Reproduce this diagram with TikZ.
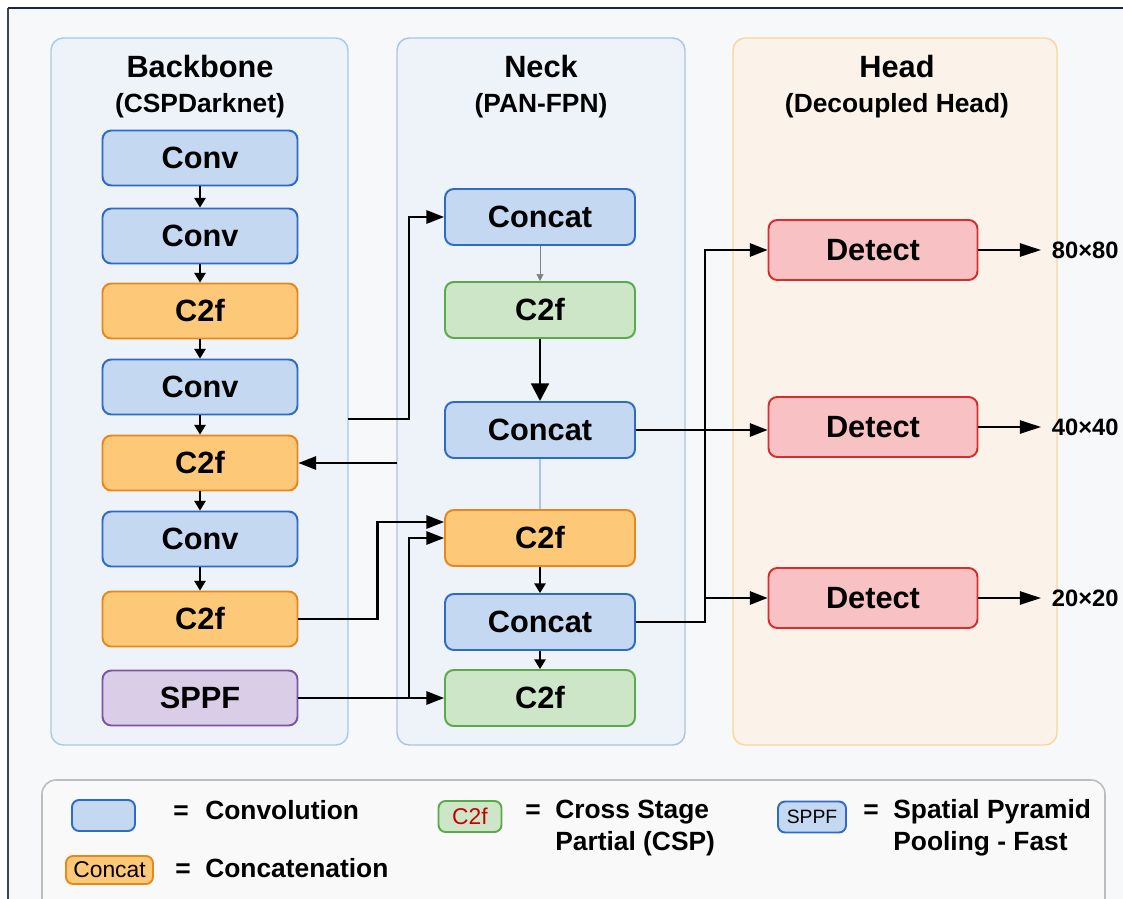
\documentclass[tikz,border=0pt]{standalone}
\usepackage{fontspec}
\setmainfont{Liberation Sans}
\usetikzlibrary{arrows.meta}

\definecolor{pagebg}{HTML}{F7F8F9}
\definecolor{frametop}{HTML}{1B2450}
\definecolor{frameleft}{HTML}{3E4352}
\definecolor{panelblue}{HTML}{EEF3F9}
\definecolor{panelline}{HTML}{A3CCEB}
\definecolor{neckline}{HTML}{A9C4E9}
\definecolor{panelorange}{HTML}{FBF3E9}
\definecolor{headline}{HTML}{FCD49A}
\definecolor{convfill}{HTML}{C4D8F1}
\definecolor{convline}{HTML}{2D6BC9}
\definecolor{cffill}{HTML}{FDC878}
\definecolor{cfline}{HTML}{E8881C}
\definecolor{greenfill}{HTML}{CDE6C8}
\definecolor{greenline}{HTML}{5BAA4A}
\definecolor{sppffill}{HTML}{D9CDE7}
\definecolor{sppfline}{HTML}{7A57A6}
\definecolor{detfill}{HTML}{F8C1C3}
\definecolor{detline}{HTML}{DA2C2C}
\definecolor{legbg}{HTML}{F9F9F9}
\definecolor{legline}{HTML}{BDBDBD}
\definecolor{c2fred}{HTML}{C80000}

\begin{document}
\begin{tikzpicture}[x=0.02cm,y=-0.02cm,
    blk/.style={draw, line width=1.1pt, rounded corners=5pt, minimum width=3.9cm,
        minimum height=1.1cm, font=\bfseries\fontsize{17.5}{20}\selectfont},
    nk/.style={minimum width=3.8cm, minimum height=1.12cm},
    conv/.style={blk, fill=convfill, draw=convline},
    cfo/.style={blk, fill=cffill, draw=cfline},
    grn/.style={blk, fill=greenfill, draw=greenline},
    sppf/.style={blk, fill=sppffill, draw=sppfline},
    det/.style={blk, fill=detfill, draw=detline, minimum width=4.18cm, minimum height=1.2cm},
    ttl/.style={anchor=base, font=\bfseries\fontsize{17.5}{20}\selectfont},
    sub/.style={anchor=base, font=\bfseries\fontsize{15}{18}\selectfont},
    outl/.style={anchor=west, inner xsep=6pt, font=\bfseries\fontsize{13.5}{16}\selectfont},
    lgtxt/.style={anchor=base west, inner sep=0pt, font=\bfseries\fontsize{15}{18}\selectfont},
    lgeq/.style={anchor=base, inner sep=0pt, font=\bfseries\fontsize{15}{18}\selectfont},
    lgbox/.style={minimum width=1.26cm, minimum height=0.62cm, rounded corners=4pt,
        font=\fontsize{13}{15}\selectfont},
    arr/.style={-{Triangle[length=10pt,width=7.5pt]}, line width=1.2pt},
    sarr/.style={-{Triangle[length=5.5pt,width=6.5pt]}, line width=0.9pt},
    barr/.style={-{Triangle[length=10pt,width=10pt]}, line width=1.7pt},
    tarr/.style={-{Triangle[length=4pt,width=4pt]}, line width=0.4pt, draw=gray},
    oarr/.style={-{Triangle[length=12pt,width=7.5pt]}, line width=1.2pt}]

\useasboundingbox (0,0) rectangle (1123,899);
\clip (0,0) rectangle (1123,899);

% page
\fill[white] (0,0) rectangle (1123,899);
\fill[pagebg] (8,8) rectangle (1123,899);
\draw[frameleft, line width=1.4pt] (8,899) -- (8,8);
\draw[frametop, line width=1.6pt] (8,8) -- (1123,8);

% panels
\draw[panelline, fill=panelblue, line width=0.8pt, rounded corners=7pt] (51,38) rectangle (348,745);
\draw[neckline, fill=panelblue, line width=0.8pt, rounded corners=7pt] (397,38) rectangle (685,745);
\draw[headline, fill=panelorange, line width=0.8pt, rounded corners=7pt] (733,38) rectangle (1057,745);

\node[ttl] (tbb) at (200,77) {Backbone};
\node[sub] (sbb) at (200,112) {(CSPDarknet)};
\node[ttl] (tnk) at (541,77) {Neck};
\node[sub] (snk) at (541,112) {(PAN-FPN)};
\node[ttl] (thd) at (897,77) {Head};
\node[sub] (shd) at (897,112) {(Decoupled Head)};

% backbone
\node[conv] (b1) at (200,158) {Conv};
\node[conv] (b2) at (200,236) {Conv};
\node[cfo]  (b3) at (200,311) {C2f};
\node[conv] (b4) at (200,387) {Conv};
\node[cfo]  (b5) at (200,463) {C2f};
\node[conv] (b6) at (200,539) {Conv};
\node[cfo]  (b7) at (200,619) {C2f};
\node[sppf] (b8) at (200,698) {SPPF};

\foreach \a/\b in {b1/b2,b2/b3,b3/b4,b4/b5,b5/b6,b6/b7}
    \draw[sarr] (\a) -- (\b);

% neck
\node[conv, nk] (n1) at (540,217) {Concat};
\node[grn, nk]  (n2) at (540,310) {C2f};
\node[conv, nk] (n3) at (540,430) {Concat};
\node[cfo, nk]  (n4) at (540,538) {C2f};
\node[conv, nk] (n5) at (540,622) {Concat};
\node[grn, nk]  (n6) at (540,698) {C2f};

\draw[tarr] (n1) -- (n2);
\draw[barr] (n2) -- (n3);
\draw[neckline, line width=0.6pt] (n3) -- (n4);
\draw[sarr] (n4) -- (n5);
\draw[sarr] (n5) -- (n6);

% head
\node[det] (d1) at (873,250) {Detect};
\node[det] (d2) at (873,427) {Detect};
\node[det] (d3) at (873,598) {Detect};

\node[outl] (o1) at (1041,250) {80×80};
\node[outl] (o2) at (1041,427) {40×40};
\node[outl] (o3) at (1041,598) {20×20};
\draw[oarr] (d1.east) -- (o1.west);
\draw[oarr] (d2.east) -- (o2.west);
\draw[oarr] (d3.east) -- (o3.west);

% backbone <-> neck
\coordinate (bbout) at (348,419);
\coordinate (nkin) at (397,463);
\coordinate (spbr) at (409,698);
\draw[arr] (bbout) -- ++(61,0) |- (n1.west);
\draw[arr] (nkin) -- (b5.east);
\draw[arr] (b7.east) -- ++(79,0) |- ([yshift=0.32cm]n4.west);
\draw[arr] (b8.east) -- (n6.west);
\draw[arr] (spbr) |- (n4.west);

% neck -> head
\coordinate (hbr) at (704,598);
\draw[arr] (n3.east) -- (n3.east -| d2.west);
\draw[arr] (n5.east) -- ++(69,0) |- (d1.west);
\draw[arr] (hbr) -- (d3.west);

% legend
\draw[legline, fill=legbg, line width=0.9pt, rounded corners=8pt] (42,780) rectangle (1105,940);

\node[conv, lgbox] (lconv) at (103.5,815.5) {};
\node[lgeq] (lq1) at (181,819) {=};
\node[lgtxt] (lt1) at (205,819) {Convolution};

\node[cfo, lgbox, minimum width=1.74cm, minimum height=0.56cm] (lcat) at (109.5,870) {Concat};
\node[lgeq] (lq2) at (183,877) {=};
\node[lgtxt] (lt2) at (205,877) {Concatenation};

\node[grn, lgbox, text=c2fred] (lc2f) at (470,816.5) {C2f};
\node[lgeq] (lq3) at (533,818) {=};
\node[lgtxt] (lt3) at (555,818) {Cross Stage};
\node[lgtxt] (lt4) at (555,850) {Partial (CSP)};

\node[conv, lgbox, minimum width=1.36cm, font=\fontsize{11}{13}\selectfont] (lsppf) at (812,817) {SPPF};
\node[lgeq] (lq4) at (871,818) {=};
\node[lgtxt] (lt5) at (893,818) {Spatial Pyramid};
\node[lgtxt] (lt6) at (893,850) {Pooling - Fast};

\end{tikzpicture}
\end{document}
